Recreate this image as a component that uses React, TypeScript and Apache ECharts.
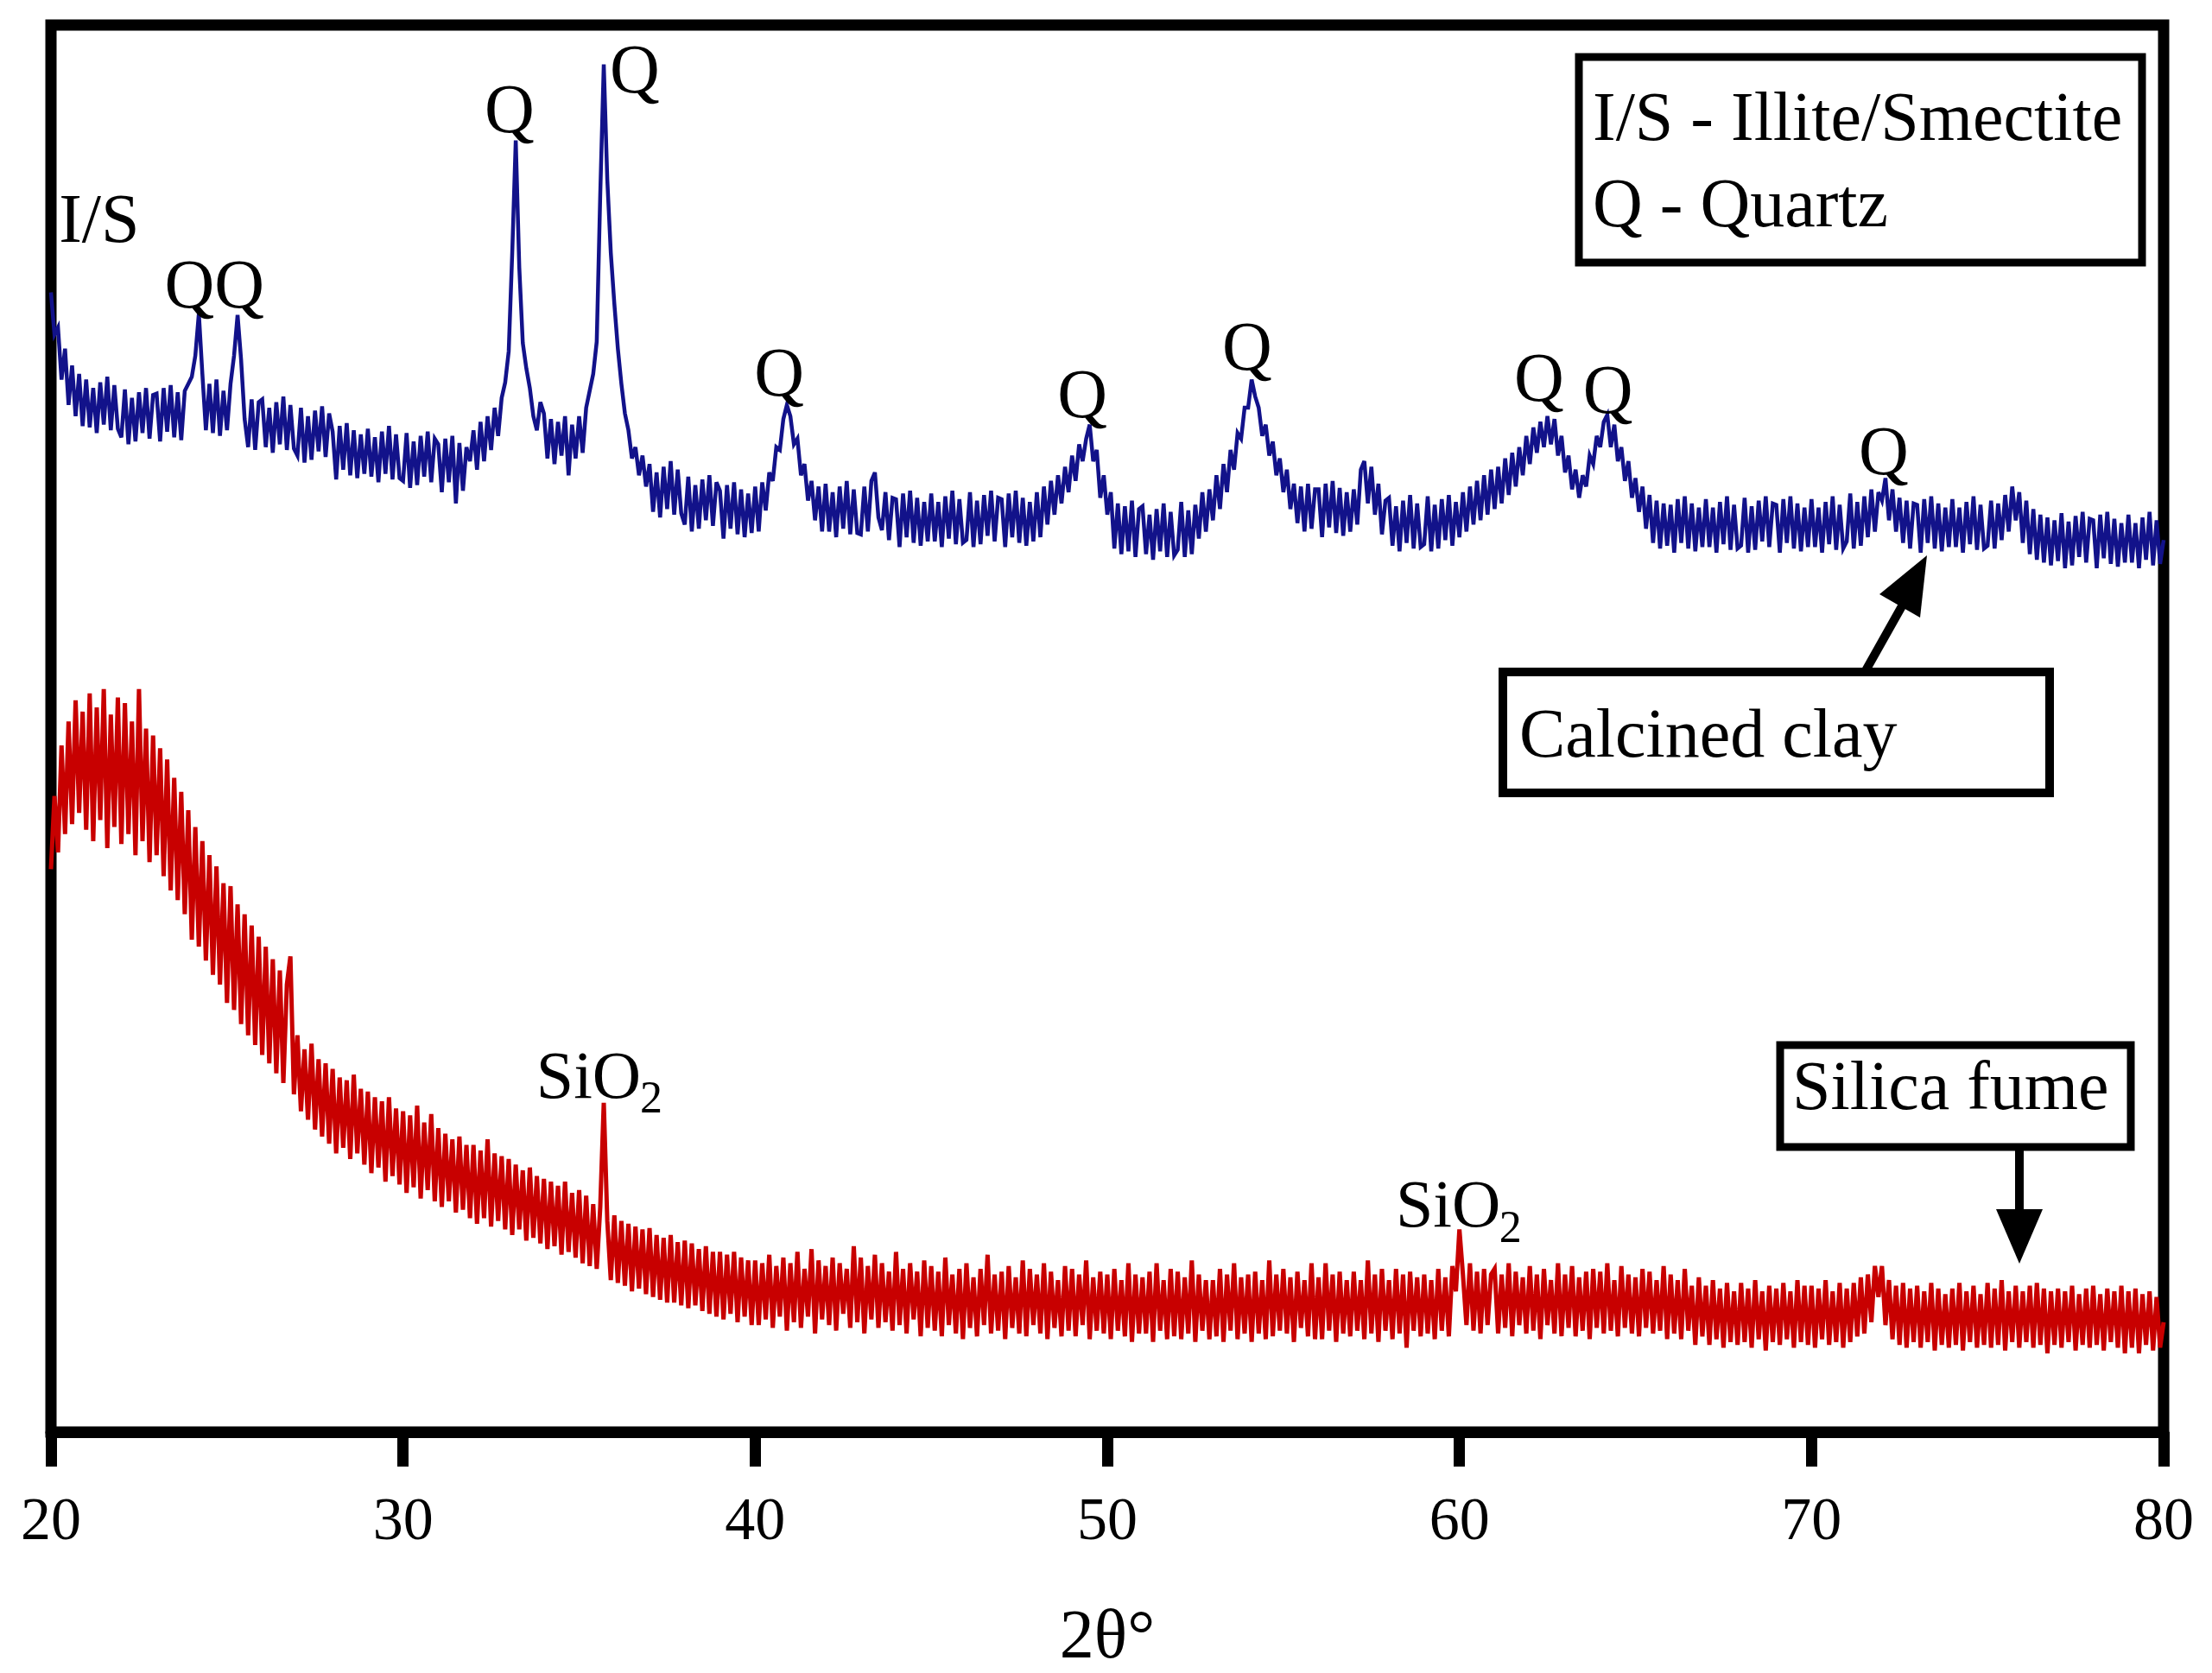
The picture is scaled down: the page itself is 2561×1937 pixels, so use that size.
import React, { useEffect, useRef } from "react";
import * as echarts from "echarts";

// 2θ sampling of both patterns
const TWO_THETA_START = 20;
const TWO_THETA_STEP = 0.1;
const xTickValues = [20, 30, 40, 50, 60, 70, 80];

// Calcined clay intensity (arbitrary units, 0..1000 full scale), one row per degree
const calcinedClay = [
  810, 780, 785, 748, 770, 730, 758, 722, 752, 715,
  748, 714, 742, 710, 746, 716, 750, 712, 744, 713,
  707, 741, 702, 735, 704, 739, 710, 742, 706, 737,
  738, 704, 742, 711, 744, 707, 739, 705, 740, 745,
  750, 765, 795, 752, 712, 745, 710, 748, 708, 740,
  712, 745, 765, 794, 762, 720, 700, 734, 698, 732,
  734, 700, 728, 696, 732, 702, 736, 698, 730, 699,
  694, 728, 689, 722, 691, 726, 697, 729, 693, 724,
  711, 677, 715, 684, 717, 680, 712, 678, 709, 681,
  713, 679, 707, 675, 711, 681, 715, 677, 709, 678,
  676, 710, 671, 704, 673, 708, 679, 711, 675, 706,
  702, 668, 706, 675, 708, 660, 703, 669, 700, 690,
  712, 684, 718, 690, 722, 698, 728, 708, 735, 746,
  768, 838, 918, 828, 774, 756, 742, 722, 712, 732,
  724, 692, 720, 688, 718, 694, 722, 680, 716, 692,
  722, 696, 728, 740, 752, 775, 880, 972, 890, 838,
  802, 770, 745, 724, 712, 692, 700, 680, 694, 672,
  688, 654, 682, 650, 686, 656, 690, 652, 684, 653,
  645, 679, 640, 673, 642, 677, 648, 680, 644, 675,
  669, 635, 673, 642, 675, 638, 670, 636, 667, 639,
  672, 640, 675, 655, 682, 676, 700, 698, 720, 730,
  722, 702, 706, 680, 688, 662, 676, 648, 672, 640,
  674, 640, 668, 636, 672, 642, 676, 638, 670, 639,
  638, 672, 640, 676, 682, 650, 641, 668, 634, 664,
  663, 629, 667, 636, 669, 632, 664, 630, 661, 633,
  667, 633, 661, 629, 665, 635, 669, 631, 663, 632,
  634, 668, 629, 662, 631, 666, 637, 669, 633, 664,
  663, 629, 667, 636, 669, 632, 664, 630, 661, 633,
  668, 636, 672, 645, 676, 652, 680, 660, 686, 668,
  694, 676, 702, 690, 706, 716, 690, 698, 664, 680,
  652, 668, 628, 660, 624, 658, 626, 662, 622, 656,
  658, 624, 652, 620, 656, 626, 660, 622, 654, 623,
  627, 661, 622, 655, 624, 659, 635, 668, 640, 670,
  648, 680, 656, 688, 668, 698, 684, 710, 706, 728,
  728, 748, 736, 728, 708, 716, 694, 704, 680, 692,
  668, 684, 656, 674, 646, 672, 640, 674, 642, 670,
  670, 636, 674, 643, 676, 639, 671, 637, 668, 640,
  670, 645, 684, 690, 660, 686, 652, 674, 638, 662,
  664, 630, 658, 626, 662, 632, 666, 628, 660, 629,
  631, 665, 626, 659, 628, 663, 634, 666, 630, 661,
  636, 668, 640, 672, 645, 676, 648, 680, 652, 684,
  656, 686, 660, 692, 666, 696, 672, 700, 680, 708,
  688, 714, 696, 718, 700, 722, 702, 720, 694, 708,
  682, 694, 670, 684, 664, 680, 672, 694, 688, 708,
  700, 718, 723, 700, 716, 690, 700, 676, 690, 664,
  678, 654, 672, 642, 666, 632, 662, 628, 660, 630,
  659, 625, 663, 632, 665, 628, 660, 626, 657, 629,
  663, 629, 657, 625, 661, 631, 665, 627, 659, 628,
  630, 664, 625, 658, 627, 662, 633, 665, 629, 660,
  659, 625, 663, 632, 665, 628, 660, 626, 657, 629,
  663, 629, 657, 625, 661, 631, 665, 627, 659, 628,
  633, 667, 628, 661, 630, 665, 636, 670, 640, 668,
  662, 678, 648, 670, 640, 664, 632, 662, 628, 660,
  659, 625, 663, 632, 665, 628, 660, 626, 657, 629,
  663, 629, 657, 625, 661, 631, 665, 627, 659, 628,
  630, 662, 628, 660, 634, 666, 640, 672, 648, 668,
  632, 662, 624, 656, 620, 652, 618, 650, 616, 648,
  619, 653, 614, 647, 616, 651, 622, 654, 618, 649,
  648, 614, 652, 621, 654, 617, 649, 615, 646, 618,
  652, 618, 646, 614, 650, 620, 654, 616, 648, 617,
  634,
];

// Silica fume intensity (same units), one row per degree
const silicaFume = [
  400, 452, 412, 488, 425, 505, 432, 520, 440, 512,
  428, 525, 420, 515, 435, 528, 415, 510, 430, 522,
  418, 518, 425, 505, 410, 528, 420, 500, 405, 495,
  410, 486, 395, 478, 385, 465, 378, 455, 368, 442,
  350, 430, 345, 420, 335, 410, 325, 402, 318, 390,
  305, 388, 300, 375, 290, 368, 282, 360, 275, 352,
  268, 345, 262, 336, 255, 328, 248, 318, 338, 240,
  282, 228, 272, 222, 276, 215, 265, 210, 262, 205,
  258, 198, 252, 202, 250, 194, 254, 198, 244, 190,
  242, 184, 238, 188, 235, 178, 238, 182, 230, 176,
  228, 170, 225, 174, 232, 166, 220, 172, 226, 164,
  216, 160, 212, 164, 208, 156, 210, 158, 204, 152,
  204, 148, 200, 152, 208, 146, 198, 150, 196, 144,
  194, 140, 190, 144, 186, 136, 188, 138, 182, 134,
  180, 130, 178, 132, 175, 126, 178, 128, 170, 124,
  172, 120, 168, 118, 162, 116, 160, 234, 150, 108,
  154, 106, 150, 104, 148, 100, 146, 102, 144, 98,
  145, 96, 140, 94, 138, 92, 140, 92, 135, 90,
  136, 88, 134, 90, 130, 86, 132, 84, 128, 82,
  128, 80, 126, 84, 128, 78, 124, 82, 122, 76,
  122, 76, 120, 80, 126, 74, 118, 82, 124, 72,
  120, 78, 128, 74, 116, 82, 130, 70, 122, 80,
  118, 76, 124, 72, 120, 84, 116, 74, 132, 78,
  124, 70, 118, 80, 126, 74, 120, 78, 114, 72,
  128, 76, 116, 70, 120, 80, 114, 68, 122, 74,
  118, 72, 114, 68, 124, 76, 112, 70, 116, 66,
  120, 74, 110, 68, 116, 76, 126, 70, 112, 72,
  114, 66, 118, 74, 110, 70, 122, 68, 116, 76,
  112, 70, 120, 66, 114, 74, 108, 68, 118, 72,
  116, 68, 112, 76, 122, 66, 110, 72, 114, 70,
  112, 66, 116, 72, 108, 68, 120, 64, 112, 70,
  110, 70, 114, 64, 120, 72, 108, 66, 116, 68,
  114, 66, 110, 70, 122, 64, 112, 72, 108, 66,
  108, 68, 116, 64, 112, 72, 120, 66, 110, 70,
  112, 64, 114, 70, 108, 66, 122, 68, 112, 72,
  116, 70, 110, 64, 114, 74, 108, 68, 120, 66,
  110, 66, 120, 72, 112, 64, 114, 70, 108, 68,
  114, 72, 108, 66, 122, 70, 112, 64, 116, 72,
  108, 66, 116, 70, 112, 60, 114, 72, 110, 68,
  112, 70, 108, 66, 116, 72, 110, 68, 118, 100,
  144, 112, 76, 120, 72, 114, 70, 116, 76, 112,
  116, 70, 112, 74, 120, 68, 114, 76, 110, 70,
  118, 72, 112, 66, 116, 76, 108, 70, 120, 68,
  112, 74, 118, 68, 110, 72, 114, 66, 116, 74,
  114, 70, 120, 72, 108, 68, 118, 74, 112, 70,
  110, 68, 116, 74, 114, 70, 108, 72, 118, 66,
  112, 70, 108, 66, 116, 72, 104, 62, 110, 68,
  104, 62, 108, 66, 102, 60, 106, 64, 100, 62,
  106, 64, 102, 60, 108, 66, 100, 58, 104, 64,
  102, 62, 106, 66, 100, 60, 108, 64, 104, 62,
  104, 60, 102, 66, 108, 62, 100, 64, 106, 60,
  102, 64, 106, 68, 110, 70, 112, 78, 118, 96,
  118, 76, 108, 66, 104, 62, 106, 60, 102, 64,
  104, 60, 100, 64, 106, 58, 102, 62, 98, 60,
  102, 62, 106, 58, 100, 64, 104, 60, 98, 62,
  106, 60, 102, 62, 108, 58, 100, 64, 104, 60,
  100, 64, 104, 60, 106, 62, 102, 56, 100, 62,
  102, 60, 100, 64, 104, 58, 98, 62, 102, 60,
  104, 62, 98, 58, 102, 64, 100, 60, 104, 56,
  100, 60, 102, 56, 98, 62, 100, 58, 96, 60,
  78,
];

// Peak labels (data coordinates of the label centre)
const peakLabelText = ["I/S", "QQ", "Q", "Q", "Q", "Q", "Q", "Q", "Q", "Q"];
const peakLabelX = [21.37, 24.64, 33.02, 36.58, 40.68, 49.29, 53.97, 62.26, 64.22, 72.05];
const peakLabelY = [862.6, 816.1, 940.5, 968.7, 753.5, 737.9, 771.6, 749.8, 740.9, 697.4];

// SiO2 labels: left edge of "SiO" and of subscript "2"
const sioLabelX = [33.78, 58.19];
const sioLabelY = [254.1, 162.5];
const subLabelX = [36.73, 61.13];
const subLabelY = [237.9, 145.9];

const legendLines = ["I/S - Illite/Smectite", "Q - Quartz"];
const seriesNames = ["Calcined clay", "Silica fume"];

const FONT = "Liberation Serif";

export default function App() {
  const ref = useRef<HTMLDivElement>(null);

  useEffect(() => {
    document.body.style.margin = "0";
    const chart = echarts.init(ref.current as HTMLDivElement, undefined, {
      renderer: "svg",
      width: 2561,
      height: 1937,
    });
    const toPairs = (vals: number[]) =>
      vals.map((v, i) => [Math.round((TWO_THETA_START + i * TWO_THETA_STEP) * 100) / 100, v]);

    chart.setOption({
      animation: false,
      backgroundColor: "#ffffff",
      grid: {
        left: 59,
        right: 56,
        top: 29,
        bottom: 277,
        show: true,
        borderColor: "#000",
        borderWidth: 13,
        backgroundColor: "transparent",
      },
      xAxis: {
        type: "value",
        min: xTickValues[0],
        max: xTickValues[xTickValues.length - 1],
        interval: 10,
        name: "2θ°",
        nameLocation: "middle",
        nameGap: 194,
        nameTextStyle: { fontFamily: FONT, fontSize: 80, color: "#000" },
        axisLine: { show: true, lineStyle: { color: "#000", width: 13 } },
        axisTick: { show: true, inside: false, length: 40, lineStyle: { color: "#000", width: 13 } },
        axisLabel: { margin: 65, fontFamily: FONT, fontSize: 70, color: "#000" },
        splitLine: { show: false },
      },
      yAxis: { type: "value", min: 0, max: 1000, show: false },
      series: [
        {
          type: "line",
          name: seriesNames[1],
          data: toPairs(silicaFume),
          showSymbol: false,
          symbol: "none",
          lineStyle: { color: "#c80000", width: 5, join: "miter", miterLimit: 4 },
          z: 2,
        },
        {
          type: "line",
          name: seriesNames[0],
          data: toPairs(calcinedClay),
          showSymbol: false,
          symbol: "none",
          lineStyle: { color: "#12128a", width: 4.5, join: "miter", miterLimit: 4 },
          z: 3,
        },
      ],
    });

    const P = (x: number, y: number) =>
      chart.convertToPixel({ gridIndex: 0 }, [x, y]) as number[];

    const txt = (x: number, y: number, text: string, size: number, align: string) => ({
      type: "text",
      x,
      y,
      z: 100,
      style: {
        text,
        fontFamily: FONT,
        fontSize: size,
        fill: "#000",
        align,
        textAlign: align,
        verticalAlign: "middle",
        textVerticalAlign: "middle",
      },
    });

    const elements: any[] = [];
    peakLabelText.forEach((t, i) => {
      const p = P(peakLabelX[i], peakLabelY[i]);
      elements.push(txt(p[0], p[1], t, 80, "center"));
    });
    sioLabelX.forEach((x, i) => {
      const p = P(x, sioLabelY[i]);
      elements.push(txt(p[0], p[1], "SiO", 78, "left"));
      const q = P(subLabelX[i], subLabelY[i]);
      elements.push(txt(q[0], q[1], "2", 52, "left"));
    });

    // legend box
    elements.push({
      type: "rect",
      z: 90,
      shape: { x: 1828, y: 66, width: 652, height: 238 },
      style: { fill: "#fff", stroke: "#000", lineWidth: 9 },
    });
    elements.push(txt(1844, 135, legendLines[0], 80, "left"));
    elements.push(txt(1844, 235, legendLines[1], 80, "left"));

    // calcined clay callout
    elements.push({
      type: "rect",
      z: 90,
      shape: { x: 1740, y: 778, width: 633, height: 140 },
      style: { fill: "#fff", stroke: "#000", lineWidth: 10 },
    });
    elements.push(txt(1759, 849, seriesNames[0], 80, "left"));
    elements.push({
      type: "line",
      z: 90,
      shape: { x1: 2158, y1: 780, x2: 2203, y2: 700 },
      style: { stroke: "#000", lineWidth: 10 },
    });
    elements.push({
      type: "polygon",
      z: 90,
      shape: { points: [[2231, 643], [2176, 688], [2223, 715]] },
      style: { fill: "#000" },
    });

    // silica fume callout
    elements.push({
      type: "rect",
      z: 90,
      shape: { x: 2061, y: 1210, width: 406, height: 118 },
      style: { fill: "#fff", stroke: "#000", lineWidth: 9 },
    });
    elements.push(txt(2075, 1257, seriesNames[1], 80, "left"));
    elements.push({
      type: "line",
      z: 90,
      shape: { x1: 2338, y1: 1332, x2: 2338, y2: 1405 },
      style: { stroke: "#000", lineWidth: 10 },
    });
    elements.push({
      type: "polygon",
      z: 90,
      shape: { points: [[2338, 1463], [2311, 1400], [2365, 1400]] },
      style: { fill: "#000" },
    });

    chart.setOption({ graphic: { elements } });

    return () => chart.dispose();
  }, []);

  return <div ref={ref} style={{ width: 2561, height: 1937 }} />;
}
